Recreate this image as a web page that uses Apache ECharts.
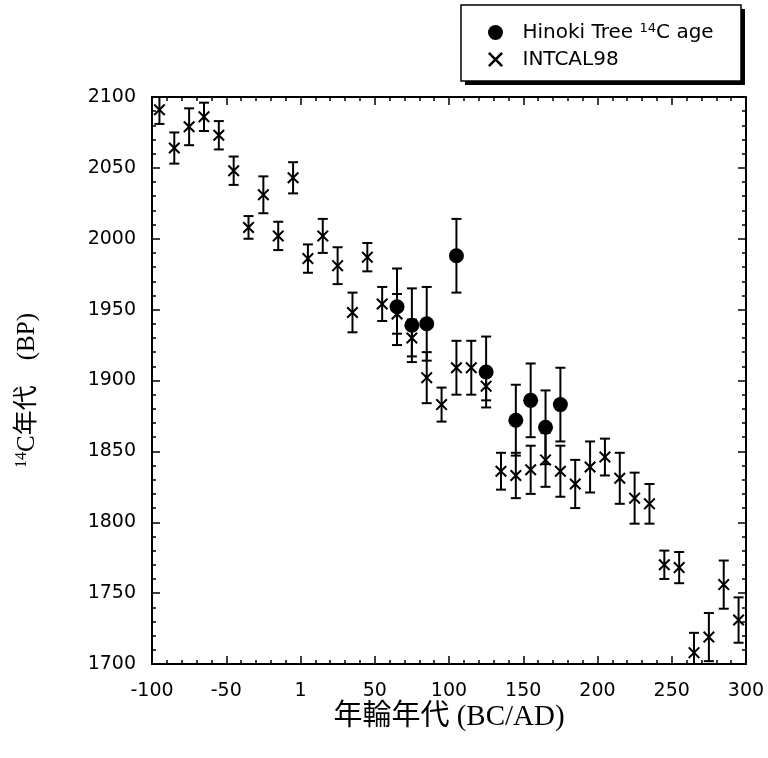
<!DOCTYPE html>
<html>
<head>
<meta charset="utf-8">
<script src="https://cdn.jsdelivr.net/npm/echarts@6/dist/echarts.min.js"></script>
<style>
  html, body { margin: 0; padding: 0; background: #fff; }
  #chart { width: 768px; height: 758px; }
</style>
</head>
<body>
<div id="chart"></div>
<script>
"use strict";

// INTCAL98 14C 年代 (年輪年代, BP, 誤差)
var intcalYears = [-95, -85, -75, -65, -55, -45, -35, -25, -15, -5,
  5, 15, 25, 35, 45, 55, 65, 75, 85, 95,
  105, 115, 125, 135, 145, 155, 165, 175, 185, 195,
  205, 215, 225, 235, 245, 255, 265, 275, 285, 295];
var intcalAge = [2091, 2064, 2079, 2086, 2073, 2048, 2008, 2031, 2002, 2043,
  1986, 2002, 1981, 1948, 1987, 1954, 1947, 1930, 1902, 1883,
  1909, 1909, 1896, 1836, 1833, 1837, 1844, 1836, 1827, 1839,
  1846, 1831, 1817, 1813, 1770, 1768, 1708, 1719, 1756, 1731];
var intcalErr = [10, 11, 13, 10, 10, 10, 8, 13, 10, 11,
  10, 12, 13, 14, 10, 12, 14, 13, 18, 12,
  19, 19, 10, 13, 16, 17, 19, 18, 17, 18,
  13, 18, 18, 14, 10, 11, 14, 17, 17, 16];

// ヒノキ 14C 年代
var hinokiYears = [65, 75, 85, 105, 125, 145, 155, 165, 175];
var hinokiAge = [1952, 1939, 1940, 1988, 1906, 1872, 1886, 1867, 1883];
var hinokiErr = [27, 26, 26, 26, 25, 25, 26, 26, 26];

var crossPath = "path://M0,1.2L1.2,0L5,3.8L8.8,0L10,1.2L6.2,5L10,8.8L8.8,10L5,6.2L1.2,10L0,8.8L3.8,5Z";

function zip3(a, b, c) {
  return a.map(function (v, i) { return [v, b[i], c[i]]; });
}

//误差棒
function renderErrorBar(params, api) {
  var x = api.value(0), y = api.value(1), e = api.value(2);
  var top = api.coord([x, y + e]);
  var bot = api.coord([x, y - e]);
  var half = 5;
  var style = { stroke: "#000", lineWidth: 2 };
  return {
    type: "group",
    children: [
      { type: "line", shape: { x1: top[0], y1: top[1], x2: bot[0], y2: bot[1] }, style: style },
      { type: "line", shape: { x1: top[0] - half, y1: top[1], x2: top[0] + half, y2: top[1] }, style: style },
      { type: "line", shape: { x1: bot[0] - half, y1: bot[1], x2: bot[0] + half, y2: bot[1] }, style: style }
    ]
  };
}

var tickFont = "DejaVu Sans";
var titleFont = "'Liberation Serif', 'Noto Sans CJK JP', serif";

var axisCommon = {
  axisLine: { onZero: false, lineStyle: { color: "#000", width: 2 } },
  axisTick: { inside: true, length: 8, lineStyle: { color: "#000", width: 1.5 } },
  minorTick: { show: true, splitNumber: 5, length: 4, lineStyle: { color: "#000", width: 1.5 } },
  splitLine: { show: false }
};

var myChart = echarts.init(document.getElementById("chart"));
var option = {
  animation: false,
  backgroundColor: "#fff",
  grid: { left: 152, right: 22, top: 97, bottom: 94 },
  // 凡例の枠と影
  graphic: [
    { type: "rect", z: 0, shape: { x: 465, y: 9, width: 280, height: 76 }, style: { fill: "#000" } },
    { type: "rect", z: 1, shape: { x: 461, y: 5, width: 280, height: 76 }, style: { fill: "#fff", stroke: "#000", lineWidth: 1.5 } }
  ],
  legend: {
    orient: "vertical",
    left: 488,
    top: 22,
    padding: 0,
    itemGap: 6,
    itemWidth: 28,
    itemHeight: 15,
    z: 10,
    data: [
      { name: "Hinoki", icon: "circle" },
      { name: "INTCAL98", icon: crossPath }
    ],
    formatter: function (name) {
      return name === "Hinoki" ? "Hinoki Tree {sup|14}C age" : name;
    },
    textStyle: {
      color: "#000",
      fontFamily: "DejaVu Sans",
      fontSize: 20,
      lineHeight: 21,
      padding: [0, 0, 0, 8],
      rich: {
        sup: { fontSize: 13, lineHeight: 21, verticalAlign: "top", padding: [0, 0, 6, 0], fontFamily: "DejaVu Sans" }
      }
    }
  },
  xAxis: [
    Object.assign({}, axisCommon, {
      type: "value",
      min: -100, max: 300, interval: 50,
      name: "年輪年代 (BC/AD)",
      nameLocation: "middle",
      nameGap: 39,
      nameMoveOverlap: false,
      nameTextStyle: { color: "#000", fontFamily: titleFont, fontSize: 29 },
      axisLabel: {
        color: "#000", fontFamily: tickFont, fontSize: 19, margin: 18,
        formatter: function (v) { return v === 0 ? "1" : String(v); }
      }
    }),
    Object.assign({}, axisCommon, {
      type: "value", position: "top",
      min: -100, max: 300, interval: 50,
      axisLabel: { show: false }
    })
  ],
  yAxis: [
    Object.assign({}, axisCommon, {
      type: "value",
      min: 1700, max: 2100, interval: 50,
      name: "{sup|14}C年代　(BP)",
      nameLocation: "middle",
      nameGap: 112,
      nameTextStyle: {
        color: "#000", fontFamily: titleFont, fontSize: 25,
        padding: [0, 20, 0, 0],
        rich: { sup: { fontSize: 16, verticalAlign: "top", padding: [0, 0, 10, 0], fontFamily: titleFont } }
      },
      axisLabel: {
        color: "#000", fontFamily: tickFont, fontSize: 19, margin: 16,
        formatter: function (v) { return String(v); }
      }
    }),
    Object.assign({}, axisCommon, {
      type: "value", position: "right",
      min: 1700, max: 2100, interval: 50,
      axisLabel: { show: false }
    })
  ],
  series: [
    {
      name: "INTCAL98",
      type: "custom",
      clip: true,
      renderItem: renderErrorBar,
      data: zip3(intcalYears, intcalAge, intcalErr),
      itemStyle: { color: "#000" },
      z: 2
    },
    {
      name: "INTCAL98",
      type: "scatter",
      symbol: crossPath,
      symbolSize: 12,
      itemStyle: { color: "#000", opacity: 1 },
      data: intcalYears.map(function (v, i) { return [v, intcalAge[i]]; }),
      z: 3
    },
    {
      name: "Hinoki",
      type: "custom",
      clip: true,
      renderItem: renderErrorBar,
      data: zip3(hinokiYears, hinokiAge, hinokiErr),
      itemStyle: { color: "#000" },
      z: 4
    },
    {
      name: "Hinoki",
      type: "scatter",
      symbol: "circle",
      symbolSize: 15,
      itemStyle: { color: "#000", opacity: 1 },
      data: hinokiYears.map(function (v, i) { return [v, hinokiAge[i]]; }),
      z: 5
    }
  ]
};
myChart.setOption(option);
</script>
</body>
</html>
